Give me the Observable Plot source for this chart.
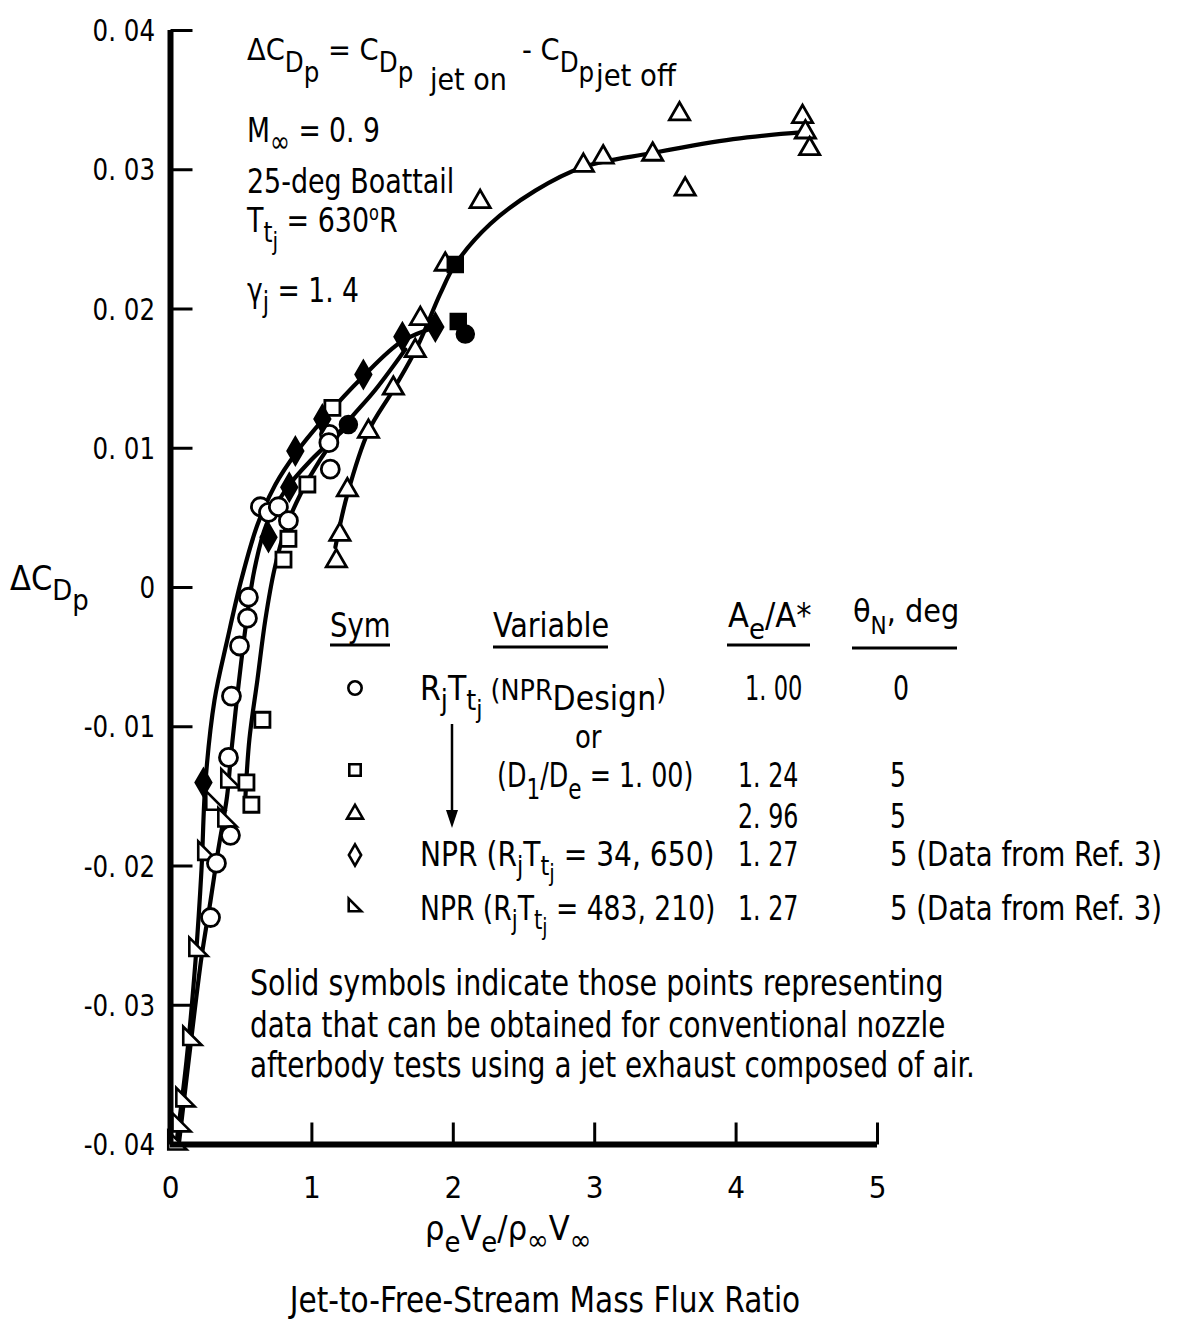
<!DOCTYPE html>
<html><head><meta charset="utf-8">
<script src="https://cdn.jsdelivr.net/npm/d3@7"></script>
<script src="https://cdn.jsdelivr.net/npm/@observablehq/plot@0.6"></script>
<style>body{margin:0;background:#fff} svg{display:block}</style>
</head><body><div id="chart"></div>
<script>
// ---------- data ----------
const xTicks = [0, 1, 2, 3, 4, 5];
const yTicks = [-0.04, -0.03, -0.02, -0.01, 0, 0.01, 0.02, 0.03, 0.04];
const yTickLabels = ["-0. 04", "-0. 03", "-0. 02", "-0. 01", "0", "0. 01", "0. 02", "0. 03", "0. 04"];

// open circles: Ae/A* = 1.00, theta 0
const circleOpen = [[0.636,0.0058],[0.693,0.0054],[0.763,0.0058],[0.834,0.0048],[0.551,-0.0007],[0.544,-0.0022],[0.488,-0.0042],[0.431,-0.0078],[0.410,-0.0122],[0.424,-0.0178],[0.325,-0.0198],[0.283,-0.0237],[1.124,0.0110],[1.120,0.0104],[1.130,0.0085]];
// open squares: Ae/A* = 1.24
const squareOpen = [[0.968,0.0074],[0.834,0.0035],[0.799,0.0020],[0.650,-0.0095],[0.537,-0.0140],[0.572,-0.0156],[1.145,0.0129]];
// open triangles: Ae/A* = 2.96
const triangleOpen = [[1.173,0.0019],[1.198,0.0038],[1.251,0.0070],[1.400,0.0112],[1.576,0.0143],[1.731,0.0170],[1.767,0.0193],[1.943,0.0232],[2.190,0.0277],[2.920,0.0303],[3.060,0.0309],[3.410,0.0311],[3.600,0.0340],[3.640,0.0286],[4.470,0.0338],[4.490,0.0327],[4.520,0.0315]];
// solid diamonds: NPR (RjTtj = 34,650)
const diamondFilled = [[0.233,-0.0140],[0.693,0.0036],[0.840,0.0072],[0.883,0.0098],[1.074,0.0121],[1.364,0.0153],[1.640,0.0180],[1.873,0.0187]];
// other solid symbols
const circleFilled = [[1.258,0.0117],[2.085,0.0182]];
const squareFilled = [[2.014,0.0232],[2.035,0.0191]];
// half triangles: NPR (RjTtj = 483,210)
const halfTri = [[0.424,-0.0137],[0.318,-0.0153],[0.403,-0.0165],[0.261,-0.0189],[0.198,-0.0258],[0.155,-0.0322],[0.106,-0.0366],[0.078,-0.0384],[0.049,-0.0397]];

// faired curves
const curveNPR = [[0.042,-0.0399],[0.113,-0.0340],[0.177,-0.0268],[0.219,-0.0203],[0.247,-0.0140],[0.311,-0.0081],[0.403,-0.0037],[0.502,0.0006],[0.615,0.0045],[0.742,0.0074],[0.890,0.0097],[1.074,0.0120],[1.357,0.0151],[1.640,0.0177],[1.908,0.0188]];
const curveCircle = [[0.060,-0.0399],[0.140,-0.0330],[0.220,-0.0265],[0.283,-0.0225],[0.335,-0.0190],[0.400,-0.0150],[0.428,-0.0120],[0.481,-0.0070],[0.537,-0.0024],[0.594,0.0013],[0.678,0.0045],[0.820,0.0071],[0.989,0.0091],[1.145,0.0106],[1.272,0.0117]];
const curveSquare = [[0.530,-0.0150],[0.558,-0.0109],[0.615,-0.0066],[0.671,-0.0023],[0.735,0.0013],[0.813,0.0042],[0.919,0.0067],[1.060,0.0092],[1.237,0.0117],[1.449,0.0142],[1.661,0.0171]];
const curveTriangle = [[1.166,0.0029],[1.251,0.0067],[1.399,0.0112],[1.576,0.0142],[1.746,0.0173],[1.908,0.0211],[2.014,0.0232],[2.261,0.0261],[2.580,0.0285],[2.919,0.0302],[3.406,0.0312],[3.979,0.0322],[4.473,0.0327]];

// ---------- chart ----------
const FONT = '"DejaVu Sans Condensed", "DejaVu Sans", sans-serif';
const pts = a => a.map(([x, y]) => ({x, y}));
const halfTriSymbol = {draw(ctx, size) { const s = Math.sqrt(size) * 1.15; ctx.moveTo(-s/2, -s/2); ctx.lineTo(-s/2, s/2); ctx.lineTo(s/2, s/2); ctx.closePath(); }};
const tickRight = {draw(ctx) { ctx.moveTo(0, 0); ctx.lineTo(22, 0); }};
const tickUp = {draw(ctx) { ctx.moveTo(0, 0); ctx.lineTo(0, -22); }};
const lineOpts = {x: "x", y: "y", curve: "catmull-rom", stroke: "black", strokeWidth: 4.2};

const plot = Plot.plot({
  width: 1187, height: 1325,
  marginLeft: 170, marginRight: 310, marginTop: 30, marginBottom: 181,
  x: {domain: [0, 5], axis: null},
  y: {domain: [-0.04, 0.04], axis: null},
  style: {fontFamily: FONT, background: "white", color: "black"},
  marks: [
    Plot.line(pts(curveNPR), lineOpts),
    Plot.line(pts(curveCircle), lineOpts),
    Plot.line(pts(curveSquare), lineOpts),
    Plot.line(pts(curveTriangle), lineOpts),
    Plot.dot(pts(halfTri), {x: "x", y: "y", symbol: halfTriSymbol, r: 9, stroke: "black", strokeWidth: 2.6, fill: "white"}),
    Plot.dot(pts(circleOpen), {x: "x", y: "y", symbol: "circle", r: 9, stroke: "black", strokeWidth: 2.8, fill: "white"}),
    Plot.dot(pts(squareOpen), {x: "x", y: "y", symbol: "square", r: 8.5, stroke: "black", strokeWidth: 2.8, fill: "white"}),
    Plot.dot(pts(triangleOpen), {x: "x", y: "y", symbol: "triangle", r: 7.5, stroke: "black", strokeWidth: 2.8, fill: "white"}),
    Plot.dot(pts(diamondFilled), {x: "x", y: "y", symbol: "diamond", r: 8.5, stroke: "black", strokeWidth: 2, fill: "black"}),
    Plot.dot(pts(circleFilled), {x: "x", y: "y", symbol: "circle", r: 9, stroke: "black", fill: "black"}),
    Plot.dot(pts(squareFilled), {x: "x", y: "y", symbol: "square", r: 9, stroke: "black", fill: "black"}),
    Plot.ruleX([0], {stroke: "black", strokeWidth: 6}),
    Plot.ruleY([-0.04], {stroke: "black", strokeWidth: 6}),
    Plot.dot(yTicks, {x: 0, y: d => d, symbol: tickRight, stroke: "black", strokeWidth: 3, fill: "none"}),
    Plot.dot(xTicks, {x: d => d, y: -0.04, symbol: tickUp, stroke: "black", strokeWidth: 3, fill: "none"}),
    Plot.text(xTicks, {x: d => d, y: -0.04, text: d => String(d), dy: 44, fontSize: 31, fill: "black"})
  ]
});
document.getElementById("chart").append(plot);

// ---------- annotations ----------
const svg = d3.select(plot);
const g = svg.append("g").attr("font-family", FONT).attr("fill", "black").style("white-space", "pre");
function rich(x, y, parts, {size = 34, anchor = "start", sx = 0.88} = {}) {
  const t = g.append("text").attr("transform", `translate(${x},${y}) scale(${sx},1)`).attr("font-size", size).attr("text-anchor", anchor);
  let cur = 0;
  for (const p of parts) {
    const [str, shift = 0, sc = 1] = typeof p === "string" ? [p] : p;
    t.append("tspan").text(str).attr("dy", shift - cur).attr("font-size", size * sc);
    cur = shift;
  }
  return t;
}
// y tick labels, placed with the plot's own y scale
const yScale = plot.scale("y");
yTicks.forEach((v, i) => rich(155, yScale.apply(v) + 11, [yTickLabels[i]], {size: 31, sx: 0.88, anchor: "end"}));

// header block
rich(247, 60, ["\u0394C", ["D", 12, 0.9], ["p", 22, 0.9], [" = C", 0], ["D", 12, 0.9], ["p", 22, 0.9]], {size: 31, sx: 0.98});
rich(430, 90, ["jet on"], {size: 30, sx: 1.0});
rich(522, 60, ["- C", ["D", 12, 0.9], ["p", 22, 0.9]], {size: 31, sx: 0.98});
rich(596, 86, ["jet off"], {size: 30, sx: 1.02});
rich(247, 142, ["M", ["\u221E", 10, 0.9], [" = 0. 9", 0]], {sx: 0.87});
rich(247, 193, ["25-deg Boattail"], {sx: 0.88});
rich(247, 232, ["T", ["t", 10, 0.85], ["j", 18, 0.75], [" = 630", 0], ["o", -12, 0.6], ["R", 0]], {sx: 0.88});
rich(247, 302, ["\u03B3", ["j", 10, 0.85], [" = 1. 4", 0]], {sx: 0.87});
// y label
rich(10, 590, ["\u0394C", ["D", 10, 0.85], ["p", 20, 0.85]], {sx: 1.0});

// legend table
rich(330, 637, ["Sym"], {sx: 0.9});
rich(493, 637, ["Variable"], {sx: 0.94});
rich(728, 627, ["A", ["e", 12, 0.85], ["/A*", 0]], {sx: 1.0});
rich(853, 622, ["\u03B8", ["N", 12, 0.75], [", deg", 0]], {size: 32, sx: 1.0});
const ul = [[330, 390, 645], [493, 608, 647], [727, 810, 645], [852, 957, 648]];
ul.forEach(([a, b, y]) => g.append("line").attr("x1", a).attr("x2", b).attr("y1", y).attr("y2", y).attr("stroke", "black").attr("stroke-width", 3));

rich(420, 700, ["R", ["j", 10, 0.85], ["T", 0], ["t", 10, 0.85], ["j", 18, 0.75], [" (NPR", 0, 0.85], ["Design", 10], [")", 0, 0.85]], {sx: 0.98});
rich(745, 700, ["1. 00"], {size: 33, sx: 0.76});
rich(893, 700, ["0"], {size: 33, sx: 0.85});
rich(575, 748, ["or"], {size: 32, sx: 0.9});
rich(497, 787, ["(D", ["1", 12, 0.85], ["/D", 0], ["e", 12, 0.85], [" = 1. 00)", 0]], {sx: 0.83});
rich(738, 787, ["1. 24"], {size: 33, sx: 0.8});
rich(890, 787, ["5"], {size: 33, sx: 0.85});
rich(738, 828, ["2. 96"], {size: 33, sx: 0.8});
rich(890, 828, ["5"], {size: 33, sx: 0.85});
rich(420, 866, ["NPR (R", ["j", 9, 0.8], ["T", 0], ["t", 9, 0.8], ["j", 15, 0.7], [" = 34, 650)", 0]], {sx: 0.92});
rich(738, 866, ["1. 27"], {size: 33, sx: 0.8});
rich(890, 866, ["5 (Data from Ref. 3)"], {sx: 0.9});
rich(420, 920, ["NPR (R", ["j", 9, 0.8], ["T", 0], ["t", 9, 0.8], ["j", 15, 0.7], [" = 483, 210)", 0]], {sx: 0.87});
rich(738, 920, ["1. 27"], {size: 33, sx: 0.8});
rich(890, 920, ["5 (Data from Ref. 3)"], {sx: 0.9});
// arrow
g.append("line").attr("x1", 452).attr("x2", 452).attr("y1", 724).attr("y2", 815).attr("stroke", "black").attr("stroke-width", 2.5);
g.append("path").attr("d", "M446,810L458,810L452,828Z").attr("fill", "black");
// legend symbols
const legSym = [[d3.symbolCircle, 688, 140], [d3.symbolSquare, 770, 130], [d3.symbolTriangle, 814, 110], [d3.symbolDiamond, 855, 130], [halfTriSymbol, 905, 120]];
legSym.forEach(([s, y, size]) => g.append("path").attr("d", d3.symbol(s, size)()).attr("transform", `translate(355,${y})`).attr("fill", "white").attr("stroke", "black").attr("stroke-width", 2.6));

// note
rich(250, 995, ["Solid symbols indicate those points representing"], {size: 36, sx: 0.88});
rich(250, 1037, ["data that can be obtained for conventional nozzle"], {size: 36, sx: 0.86});
rich(250, 1077, ["afterbody tests using a jet exhaust composed of air."], {size: 36, sx: 0.86});

// x titles
rich(425, 1240, ["\u03C1", ["e", 12, 0.85], ["V", 0], ["e", 12, 0.85], ["/\u03C1", 0], ["\u221E", 10, 0.85], ["V", 0], ["\u221E", 10, 0.85]], {sx: 1.0});
rich(545, 1312, ["Jet-to-Free-Stream Mass Flux Ratio"], {size: 35, sx: 0.94, anchor: "middle"});
</script></body></html>
